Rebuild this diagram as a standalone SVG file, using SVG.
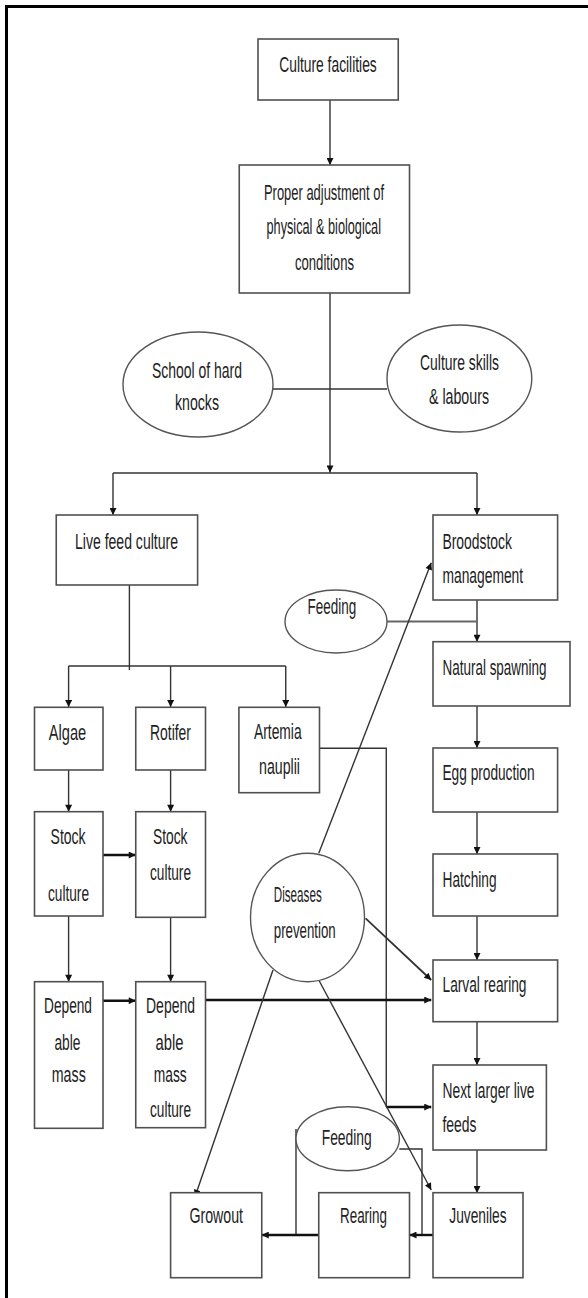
<svg xmlns="http://www.w3.org/2000/svg" width="588" height="1298" viewBox="0 0 588 1298">
<style>
.box{fill:#fff;stroke:#505050;stroke-width:1.6}
.ell{fill:#fff;stroke:#555;stroke-width:1.4}
.t{font-family:"Liberation Sans",Arial,sans-serif;font-size:22px;fill:#222}
.c{stroke:#333;stroke-width:1.4;fill:none}
.k{stroke:#111;stroke-width:2.4;fill:none}
.frame{stroke:#000;stroke-width:3;fill:none}
</style>
<defs>
<marker id="ah" viewBox="0 0 10 10" refX="10" refY="5" markerUnits="userSpaceOnUse" markerWidth="9" markerHeight="7" orient="auto">
<path d="M0,0 L10,5 L0,10 z" fill="#111"/>
</marker>
</defs>
<rect width="588" height="1298" fill="#fff"/>
<path class="frame" d="M6.5,1298 V6.5 H588"/>

<g id="connectors">
<path class="c" d="M330,100 V165" marker-end="url(#ah)"/>
<path class="c" d="M330,293 V472.5" marker-end="url(#ah)"/>
<path class="c" d="M273,389 H387"/>
<path class="c" d="M113,473 H477"/>
<path class="c" d="M113,473 V515" marker-end="url(#ah)"/>
<path class="c" d="M477,473 V515" marker-end="url(#ah)"/>
<path class="c" d="M129.4,585 V670"/>
<path class="c" d="M68.6,666 H285.75"/>
<path class="c" d="M68.6,666 V707" marker-end="url(#ah)"/>
<path class="c" d="M170.6,666 V707" marker-end="url(#ah)"/>
<path class="c" d="M285.75,666 V707" marker-end="url(#ah)"/>
<path class="c" d="M477,600 V641.7" marker-end="url(#ah)"/>
<path class="c" d="M387,621.5 H477" style="stroke:#666;stroke-width:2.2"/>
<path class="c" d="M318.75,853.3 L431.25,562.7" marker-end="url(#ah)"/>
<path class="c" d="M477,706 V748" marker-end="url(#ah)"/>
<path class="c" d="M477,812 V854" marker-end="url(#ah)"/>
<path class="c" d="M477,916 V960" marker-end="url(#ah)"/>
<path class="c" d="M477,1021.7 V1065" marker-end="url(#ah)"/>
<path class="c" d="M477,1150 V1193" marker-end="url(#ah)"/>
<path class="c" d="M319.5,748.3 H386.25 V1107"/>
<path class="k" d="M386.25,1107 H431.25" marker-end="url(#ah)"/>
<path class="c" d="M68.6,770 V811.7" marker-end="url(#ah)"/>
<path class="c" d="M170.6,770 V811.7" marker-end="url(#ah)"/>
<path class="k" d="M103,855 H135.75" marker-end="url(#ah)"/>
<path class="c" d="M68.6,916 V981.7" marker-end="url(#ah)"/>
<path class="c" d="M170.6,917.3 V981.7" marker-end="url(#ah)"/>
<path class="k" d="M103,1000.7 H135.75" marker-end="url(#ah)"/>
<path class="k" d="M205.5,1000 H431.25" marker-end="url(#ah)"/>
<path class="c" d="M365.6,918.3 L431.25,980" style="stroke-width:1.8" marker-end="url(#ah)"/>
<path class="c" d="M273,970 L195,1196.7" marker-end="url(#ah)"/>
<path class="c" d="M318.75,980 L431.25,1190" marker-end="url(#ah)"/>
<path class="c" d="M296,1129 V1235"/>
<path class="c" d="M399.3,1149 H422 V1235"/>
<path class="k" d="M433,1235 H409.5" marker-end="url(#ah)"/>
<path class="k" d="M318.75,1235 H261.75" marker-end="url(#ah)"/>
</g>

<g id="culture-facilities">
<rect class="box" x="258" y="39" width="140.25" height="61"/>
<text class="t" x="279.25" y="72" textLength="97.5" lengthAdjust="spacingAndGlyphs">Culture facilities</text>
</g>
<g id="proper-adjustment">
<rect class="box" x="239.25" y="165" width="170.25" height="128"/>
<text class="t" x="264" y="200" textLength="120" lengthAdjust="spacingAndGlyphs">Proper adjustment of</text>
<text class="t" x="266.5" y="234" textLength="114.5" lengthAdjust="spacingAndGlyphs">physical &amp; biological</text>
<text class="t" x="295" y="270" textLength="59" lengthAdjust="spacingAndGlyphs">conditions</text>
</g>
<g id="school-hard-knocks">
<ellipse class="ell" cx="198" cy="384.5" rx="75" ry="52.5"/>
<text class="t" x="152" y="378" textLength="90" lengthAdjust="spacingAndGlyphs">School of hard</text>
<text class="t" x="175" y="410" textLength="44" lengthAdjust="spacingAndGlyphs">knocks</text>
</g>
<g id="culture-skills">
<ellipse class="ell" cx="459.4" cy="378.5" rx="72.4" ry="53.5"/>
<text class="t" x="420" y="370" textLength="79" lengthAdjust="spacingAndGlyphs">Culture skills</text>
<text class="t" x="429" y="404" textLength="60" lengthAdjust="spacingAndGlyphs">&amp; labours</text>
</g>
<g id="live-feed-culture">
<rect class="box" x="56.25" y="515" width="141.35" height="70"/>
<text class="t" x="75" y="549" textLength="103" lengthAdjust="spacingAndGlyphs">Live feed culture</text>
</g>
<g id="broodstock-management">
<rect class="box" x="433" y="515" width="124.6" height="85"/>
<text class="t" x="442.5" y="549" textLength="69.4" lengthAdjust="spacingAndGlyphs">Broodstock</text>
<text class="t" x="442.5" y="583" textLength="80.6" lengthAdjust="spacingAndGlyphs">management</text>
</g>
<g id="feeding-top">
<ellipse class="ell" cx="336" cy="621.5" rx="51" ry="31.5"/>
<text class="t" x="307.5" y="614" textLength="48.75" lengthAdjust="spacingAndGlyphs">Feeding</text>
</g>
<g id="natural-spawning">
<rect class="box" x="433" y="641.7" width="137" height="64.3"/>
<text class="t" x="442.5" y="675" textLength="104" lengthAdjust="spacingAndGlyphs">Natural spawning</text>
</g>
<g id="algae">
<rect class="box" x="34.5" y="707.3" width="68.5" height="62.7"/>
<text class="t" x="48.75" y="740" textLength="37.5" lengthAdjust="spacingAndGlyphs">Algae</text>
</g>
<g id="rotifer">
<rect class="box" x="135.75" y="707.3" width="69.75" height="62.7"/>
<text class="t" x="150" y="740" textLength="41" lengthAdjust="spacingAndGlyphs">Rotifer</text>
</g>
<g id="artemia-nauplii">
<rect class="box" x="238.9" y="707.3" width="80.6" height="85.4"/>
<text class="t" x="254" y="739" textLength="47.6" lengthAdjust="spacingAndGlyphs">Artemia</text>
<text class="t" x="259" y="774" textLength="41" lengthAdjust="spacingAndGlyphs">nauplii</text>
</g>
<g id="egg-production">
<rect class="box" x="433" y="748" width="124.6" height="64"/>
<text class="t" x="442.5" y="780" textLength="92" lengthAdjust="spacingAndGlyphs">Egg production</text>
</g>
<g id="stock-culture-algae">
<rect class="box" x="34.5" y="811.7" width="68.5" height="104.3"/>
<text class="t" x="50.6" y="844" textLength="35" lengthAdjust="spacingAndGlyphs">Stock</text>
<text class="t" x="48" y="901" textLength="41" lengthAdjust="spacingAndGlyphs">culture</text>
</g>
<g id="stock-culture-rotifer">
<rect class="box" x="135.75" y="811.7" width="69.75" height="105.6"/>
<text class="t" x="153" y="844" textLength="34.5" lengthAdjust="spacingAndGlyphs">Stock</text>
<text class="t" x="150" y="880" textLength="41" lengthAdjust="spacingAndGlyphs">culture</text>
</g>
<g id="diseases-prevention">
<ellipse class="ell" cx="307.5" cy="917.5" rx="57" ry="64.2"/>
<text class="t" x="273.75" y="902" textLength="48" lengthAdjust="spacingAndGlyphs">Diseases</text>
<text class="t" x="273.75" y="938" textLength="62" lengthAdjust="spacingAndGlyphs">prevention</text>
</g>
<g id="hatching">
<rect class="box" x="433" y="854" width="124.6" height="62"/>
<text class="t" x="442.5" y="887" textLength="54" lengthAdjust="spacingAndGlyphs">Hatching</text>
</g>
<g id="larval-rearing">
<rect class="box" x="433" y="960" width="124.6" height="61.7"/>
<text class="t" x="442.5" y="992" textLength="84" lengthAdjust="spacingAndGlyphs">Larval rearing</text>
</g>
<g id="dependable-mass">
<rect class="box" x="34.5" y="981.7" width="68.5" height="146.6"/>
<text class="t" x="44" y="1013" textLength="48" lengthAdjust="spacingAndGlyphs">Depend</text>
<text class="t" x="54.4" y="1050" textLength="26" lengthAdjust="spacingAndGlyphs">able</text>
<text class="t" x="51.75" y="1082" textLength="34" lengthAdjust="spacingAndGlyphs">mass</text>
</g>
<g id="dependable-mass-culture">
<rect class="box" x="135.75" y="981.7" width="69.75" height="146"/>
<text class="t" x="146" y="1013" textLength="49" lengthAdjust="spacingAndGlyphs">Depend</text>
<text class="t" x="155.6" y="1050" textLength="28" lengthAdjust="spacingAndGlyphs">able</text>
<text class="t" x="153.75" y="1082" textLength="33" lengthAdjust="spacingAndGlyphs">mass</text>
<text class="t" x="150" y="1117" textLength="41" lengthAdjust="spacingAndGlyphs">culture</text>
</g>
<g id="next-larger-live-feeds">
<rect class="box" x="433" y="1065" width="113.4" height="85"/>
<text class="t" x="442.5" y="1098" textLength="92" lengthAdjust="spacingAndGlyphs">Next larger live</text>
<text class="t" x="442.5" y="1132" textLength="34" lengthAdjust="spacingAndGlyphs">feeds</text>
</g>
<g id="feeding-bottom">
<ellipse class="ell" cx="347.7" cy="1138.7" rx="51.7" ry="32"/>
<text class="t" x="321.7" y="1145" textLength="50" lengthAdjust="spacingAndGlyphs">Feeding</text>
</g>
<g id="growout">
<rect class="box" x="170.6" y="1192.7" width="91.15" height="85"/>
<text class="t" x="189.4" y="1223" textLength="53.6" lengthAdjust="spacingAndGlyphs">Growout</text>
</g>
<g id="rearing">
<rect class="box" x="318.75" y="1192.7" width="90.75" height="85"/>
<text class="t" x="340" y="1223" textLength="47" lengthAdjust="spacingAndGlyphs">Rearing</text>
</g>
<g id="juveniles">
<rect class="box" x="433" y="1192.7" width="90" height="85"/>
<text class="t" x="449.3" y="1223" textLength="57.3" lengthAdjust="spacingAndGlyphs">Juveniles</text>
</g>
</svg>
